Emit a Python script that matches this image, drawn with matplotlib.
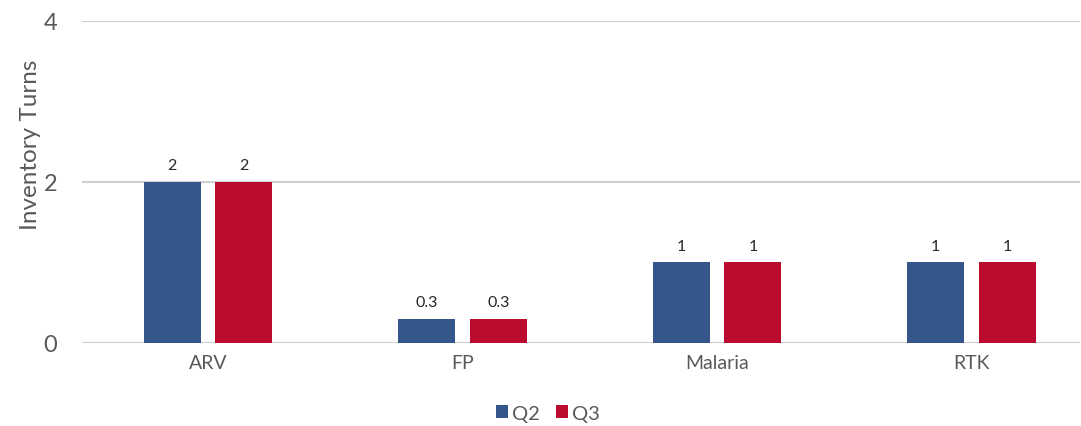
import matplotlib
matplotlib.use("Agg")
import matplotlib.pyplot as plt
import numpy as np

plt.rcParams['font.family'] = ['Lato', 'DejaVu Sans']

categories = ['ARV', 'FP', 'Malaria', 'RTK']
q2 = [2, 0.3, 1, 1]
q3 = [2, 0.3, 1, 1]
series_names = ['Q2', 'Q3']

blue = '#34568B'
red = '#BA0C2F'
grey_text = '#595959'

fig = plt.figure(figsize=(10.81, 4.27), dpi=100)
ax = fig.add_axes([0.0759, 0.1944, 0.9231, 0.7541])

x = np.arange(len(categories))
w = 0.224
off = 0.141
b1 = ax.bar(x - off, q2, w, color=blue, label=series_names[0], zorder=3)
b2 = ax.bar(x + off, q3, w, color=red, label=series_names[1], zorder=3)

for bars, vals in ((b1, q2), (b2, q3)):
    for rect, v in zip(bars, vals):
        ax.text(rect.get_x() + rect.get_width() / 2, v + 0.12, f'{v:g}',
                ha='center', va='bottom', fontsize=11.5, color='#262626')

ax.set_ylim(0, 4)
ax.set_xlim(-0.495, 3.426)
ax.set_yticks([0, 2, 4])
ax.yaxis.grid(True, color='#D0D0D0', linewidth=1.5, zorder=0)
ax.set_xticks(x)
ax.set_xticklabels(categories)
ax.tick_params(axis='x', length=0, labelsize=14, colors=grey_text, pad=8)
ax.tick_params(axis='y', length=0, labelsize=17, colors=grey_text, pad=18)
ax.set_ylabel('Inventory Turns', fontsize=17.5, color=grey_text)
ax.yaxis.set_label_coords(-0.041, 0.618)
for s in ax.spines.values():
    s.set_visible(False)

leg = fig.legend(loc='center', bbox_to_anchor=(0.507, 0.03), ncol=2, frameon=False,
                 fontsize=14.5, handlelength=0.6, handleheight=0.6, handletextpad=0.2,
                 columnspacing=0.8, labelcolor=grey_text)

fig.savefig('out.png', dpi=100)
